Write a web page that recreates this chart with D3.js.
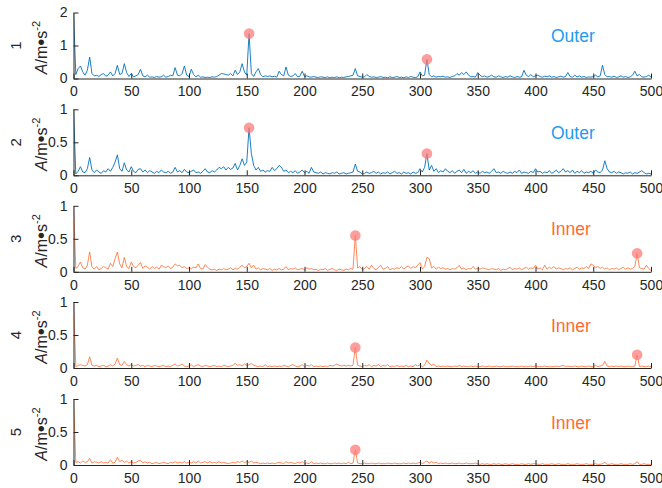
<!DOCTYPE html>
<html>
<head>
<meta charset="utf-8">
<script src="https://cdn.jsdelivr.net/npm/d3@7"></script>
<style>
  body { margin: 0; background: #fff; }
  svg text { font-family: "Liberation Sans", Arial, sans-serif; }
</style>
</head>
<body>
<div id="chart"></div>
<script>
// spectra, one value every 2 Hz from 0 to 500 Hz
const freqs = d3.range(0, 501, 2);

const amp1 = [
  2.0,0.12,0.3,0.38,0.2,0.1,0.25,0.65,0.15,0.08,0.1,0.06,0.12,0.15,0.07,0.1,0.2,0.08,0.15,0.4,0.12,0.15,0.45,0.18,0.06,
  0.15,0.05,0.08,0.12,0.28,0.08,0.05,0.1,0.04,0.05,0.03,0.06,0.04,0.05,0.1,0.04,0.06,0.1,0.08,0.33,0.1,0.08,0.15,0.38,0.1,
  0.06,0.28,0.12,0.05,0.1,0.04,0.05,0.03,0.04,0.03,0.05,0.04,0.06,0.1,0.15,0.14,0.12,0.1,0.15,0.08,0.25,0.12,0.2,0.45,0.2,
  0.1,1.36,0.15,0.06,0.2,0.3,0.12,0.05,0.08,0.06,0.08,0.05,0.07,0.04,0.22,0.12,0.08,0.35,0.1,0.06,0.08,0.15,0.05,0.07,0.22,
  0.06,0.08,0.05,0.04,0.06,0.04,0.03,0.05,0.04,0.03,0.05,0.02,0.04,0.03,0.05,0.02,0.04,0.03,0.05,0.06,0.08,0.1,0.3,0.08,0.06,
  0.04,0.05,0.12,0.06,0.04,0.05,0.03,0.04,0.06,0.03,0.04,0.02,0.05,0.03,0.04,0.06,0.03,0.04,0.02,0.05,0.03,0.06,0.04,0.03,0.05,
  0.2,0.08,0.1,0.58,0.12,0.05,0.08,0.04,0.06,0.05,0.07,0.04,0.05,0.03,0.06,0.08,0.15,0.1,0.18,0.12,0.2,0.1,0.05,0.06,0.04,
  0.18,0.1,0.05,0.08,0.04,0.06,0.1,0.05,0.04,0.08,0.05,0.03,0.06,0.04,0.08,0.05,0.03,0.06,0.04,0.05,0.25,0.1,0.06,0.12,0.05,
  0.08,0.1,0.06,0.04,0.07,0.05,0.08,0.04,0.06,0.03,0.05,0.07,0.04,0.06,0.18,0.06,0.04,0.1,0.05,0.08,0.04,0.06,0.03,0.05,0.04,
  0.06,0.1,0.05,0.08,0.4,0.12,0.05,0.06,0.04,0.07,0.03,0.05,0.08,0.04,0.06,0.03,0.05,0.1,0.22,0.08,0.12,0.05,0.04,0.06,0.1,
  0.04
];
const amp2 = [
  1.0,0.02,0.06,0.13,0.05,0.04,0.1,0.27,0.08,0.04,0.08,0.05,0.03,0.07,0.05,0.1,0.06,0.12,0.2,0.31,0.1,0.06,0.19,0.08,0.05,
  0.13,0.06,0.04,0.09,0.1,0.05,0.08,0.04,0.07,0.05,0.03,0.06,0.04,0.08,0.05,0.04,0.06,0.03,0.05,0.12,0.05,0.07,0.04,0.09,0.05,
  0.04,0.06,0.08,0.04,0.05,0.03,0.06,0.1,0.05,0.04,0.07,0.05,0.08,0.12,0.1,0.13,0.08,0.12,0.09,0.11,0.18,0.08,0.15,0.25,0.15,
  0.2,0.72,0.33,0.15,0.08,0.12,0.06,0.08,0.05,0.07,0.06,0.12,0.07,0.1,0.15,0.12,0.06,0.08,0.04,0.06,0.04,0.07,0.03,0.05,0.08,
  0.04,0.06,0.03,0.12,0.05,0.04,0.03,0.05,0.02,0.04,0.03,0.02,0.04,0.03,0.05,0.02,0.03,0.04,0.02,0.03,0.04,0.05,0.17,0.06,0.05,
  0.02,0.03,0.05,0.03,0.04,0.06,0.03,0.05,0.02,0.04,0.03,0.05,0.02,0.04,0.06,0.03,0.04,0.02,0.05,0.03,0.04,0.02,0.05,0.03,0.04,
  0.1,0.05,0.12,0.33,0.08,0.15,0.06,0.1,0.04,0.07,0.05,0.1,0.06,0.04,0.07,0.03,0.06,0.08,0.04,0.09,0.03,0.06,0.04,0.07,0.03,
  0.05,0.03,0.06,0.04,0.05,0.03,0.06,0.1,0.04,0.05,0.03,0.06,0.04,0.03,0.05,0.03,0.06,0.04,0.08,0.03,0.05,0.04,0.03,0.06,0.04,
  0.1,0.05,0.06,0.03,0.05,0.04,0.07,0.03,0.05,0.08,0.04,0.06,0.1,0.05,0.07,0.04,0.08,0.03,0.06,0.04,0.07,0.03,0.05,0.04,0.06,
  0.03,0.08,0.05,0.04,0.08,0.22,0.1,0.05,0.04,0.06,0.03,0.05,0.04,0.02,0.04,0.03,0.05,0.02,0.04,0.03,0.05,0.07,0.04,0.02,0.03,
  0.02
];
const amp3 = [
  1.0,0.05,0.08,0.15,0.06,0.04,0.1,0.3,0.07,0.04,0.08,0.03,0.05,0.08,0.06,0.04,0.13,0.08,0.2,0.3,0.12,0.06,0.22,0.08,0.05,
  0.15,0.08,0.06,0.1,0.14,0.05,0.09,0.07,0.04,0.08,0.05,0.07,0.04,0.1,0.08,0.06,0.09,0.05,0.07,0.12,0.09,0.1,0.06,0.08,0.05,
  0.06,0.05,0.07,0.06,0.12,0.05,0.04,0.11,0.07,0.04,0.03,0.04,0.02,0.04,0.03,0.05,0.03,0.04,0.06,0.03,0.05,0.04,0.07,0.1,0.06,
  0.08,0.13,0.06,0.1,0.04,0.06,0.03,0.05,0.04,0.03,0.05,0.02,0.04,0.03,0.05,0.03,0.04,0.08,0.03,0.05,0.04,0.06,0.03,0.04,0.05,
  0.03,0.06,0.04,0.05,0.03,0.04,0.02,0.04,0.03,0.05,0.02,0.04,0.05,0.03,0.02,0.04,0.03,0.02,0.04,0.03,0.05,0.04,0.55,0.06,0.08,
  0.03,0.05,0.08,0.04,0.1,0.05,0.03,0.07,0.1,0.04,0.05,0.08,0.03,0.05,0.04,0.06,0.05,0.08,0.04,0.07,0.09,0.05,0.08,0.06,0.1,
  0.14,0.04,0.08,0.22,0.2,0.06,0.08,0.04,0.07,0.05,0.06,0.04,0.05,0.03,0.05,0.04,0.06,0.1,0.04,0.06,0.03,0.05,0.04,0.08,0.04,
  0.05,0.04,0.06,0.05,0.04,0.03,0.05,0.04,0.03,0.05,0.02,0.04,0.03,0.05,0.07,0.03,0.05,0.04,0.06,0.03,0.05,0.07,0.04,0.06,0.05,
  0.1,0.04,0.06,0.03,0.1,0.04,0.07,0.05,0.08,0.04,0.06,0.05,0.03,0.05,0.04,0.06,0.03,0.05,0.07,0.04,0.06,0.05,0.08,0.05,0.12,
  0.1,0.06,0.08,0.05,0.07,0.04,0.06,0.03,0.05,0.04,0.06,0.03,0.05,0.07,0.04,0.06,0.04,0.05,0.08,0.28,0.06,0.05,0.04,0.1,0.05,
  0.02
];
const amp4 = [
  1.0,0.02,0.04,0.05,0.04,0.03,0.05,0.17,0.04,0.03,0.04,0.02,0.03,0.04,0.02,0.03,0.05,0.03,0.06,0.15,0.05,0.04,0.1,0.05,0.03,
  0.05,0.03,0.04,0.05,0.03,0.04,0.02,0.04,0.03,0.02,0.04,0.03,0.02,0.03,0.04,0.02,0.03,0.02,0.04,0.06,0.03,0.04,0.06,0.03,0.02,
  0.03,0.05,0.02,0.04,0.05,0.03,0.02,0.04,0.03,0.02,0.03,0.04,0.02,0.03,0.02,0.04,0.03,0.02,0.03,0.04,0.07,0.04,0.05,0.03,0.06,
  0.04,0.05,0.07,0.04,0.03,0.02,0.03,0.02,0.05,0.02,0.03,0.02,0.03,0.02,0.03,0.02,0.04,0.03,0.02,0.04,0.05,0.03,0.02,0.03,0.05,
  0.02,0.04,0.03,0.05,0.02,0.03,0.02,0.03,0.02,0.03,0.02,0.04,0.03,0.04,0.06,0.04,0.03,0.04,0.03,0.04,0.03,0.04,0.31,0.04,0.03,
  0.02,0.04,0.03,0.05,0.02,0.04,0.03,0.05,0.02,0.04,0.03,0.05,0.02,0.03,0.02,0.04,0.02,0.03,0.02,0.04,0.02,0.03,0.02,0.05,0.03,
  0.05,0.02,0.04,0.12,0.07,0.04,0.06,0.02,0.03,0.02,0.03,0.02,0.03,0.02,0.02,0.03,0.02,0.04,0.02,0.03,0.02,0.02,0.03,0.02,0.03,
  0.02,0.02,0.03,0.02,0.02,0.03,0.02,0.02,0.03,0.02,0.02,0.03,0.02,0.02,0.02,0.03,0.02,0.02,0.02,0.03,0.02,0.02,0.02,0.03,0.02,
  0.03,0.02,0.02,0.02,0.03,0.02,0.02,0.02,0.02,0.03,0.02,0.03,0.04,0.02,0.03,0.02,0.02,0.03,0.02,0.02,0.03,0.02,0.02,0.03,0.02,
  0.02,0.04,0.02,0.03,0.04,0.1,0.03,0.02,0.03,0.02,0.03,0.02,0.03,0.02,0.02,0.03,0.02,0.02,0.03,0.2,0.02,0.03,0.02,0.02,0.03,
  0.02
];
const amp5 = [
  1.0,0.04,0.05,0.03,0.06,0.04,0.05,0.1,0.03,0.05,0.04,0.03,0.05,0.03,0.04,0.03,0.08,0.03,0.04,0.12,0.05,0.07,0.04,0.06,0.03,
  0.05,0.03,0.04,0.06,0.07,0.03,0.05,0.03,0.04,0.02,0.03,0.04,0.02,0.03,0.04,0.03,0.02,0.04,0.03,0.05,0.03,0.04,0.03,0.05,0.03,
  0.04,0.03,0.05,0.03,0.06,0.03,0.04,0.05,0.03,0.05,0.03,0.04,0.03,0.05,0.03,0.04,0.03,0.02,0.03,0.04,0.03,0.05,0.04,0.06,0.04,
  0.05,0.04,0.06,0.03,0.04,0.03,0.02,0.03,0.02,0.03,0.02,0.03,0.02,0.03,0.04,0.03,0.02,0.05,0.03,0.04,0.03,0.02,0.04,0.03,0.05,
  0.02,0.03,0.02,0.05,0.02,0.03,0.02,0.03,0.02,0.02,0.03,0.02,0.02,0.03,0.02,0.03,0.02,0.03,0.02,0.04,0.02,0.03,0.23,0.03,0.02,
  0.02,0.03,0.02,0.02,0.03,0.02,0.02,0.03,0.02,0.02,0.02,0.03,0.02,0.02,0.03,0.02,0.02,0.02,0.03,0.02,0.03,0.02,0.03,0.02,0.03,
  0.04,0.02,0.04,0.06,0.03,0.05,0.03,0.04,0.02,0.03,0.02,0.03,0.02,0.02,0.03,0.02,0.02,0.03,0.02,0.02,0.03,0.02,0.02,0.02,0.03,
  0.02,0.01,0.02,0.01,0.02,0.01,0.01,0.02,0.01,0.02,0.01,0.01,0.02,0.01,0.01,0.02,0.01,0.01,0.01,0.02,0.01,0.01,0.02,0.01,0.02,
  0.02,0.01,0.01,0.02,0.01,0.01,0.01,0.02,0.01,0.01,0.02,0.01,0.01,0.01,0.02,0.01,0.01,0.01,0.02,0.01,0.01,0.01,0.02,0.01,0.01,
  0.01,0.02,0.01,0.01,0.02,0.04,0.01,0.01,0.02,0.01,0.01,0.01,0.02,0.01,0.01,0.01,0.02,0.01,0.02,0.05,0.01,0.01,0.02,0.01,0.01,
  0.01
];

const panelNames = ["1", "2", "3", "4", "5"];
const faultLabels = ["Outer", "Outer", "Inner", "Inner", "Inner"];
const yMax = [2, 1, 1, 1, 1];
const yTicks = [[0, 1, 2], [0, 0.5, 1], [0, 0.5, 1], [0, 0.5, 1], [0, 0.5, 1]];
const xTicks = [0, 50, 100, 150, 200, 250, 300, 350, 400, 450, 500];
// fault characteristic frequencies that get a dot
const markFreqs = [[152, 306], [152, 306], [244, 488], [244, 488], [244]];

const series = [amp1, amp2, amp3, amp4, amp5];

const W = 662, H = 488;
const left = 73.5, right = 651;
const axisH = 66;
const baseY = [78.5, 175.3, 271.8, 368, 465];
const textCol = "#262626";

const svg = d3.select("#chart").append("svg")
  .attr("width", W).attr("height", H);

const x = d3.scaleLinear().domain([0, 500]).range([left, right]);

series.forEach((amps, i) => {
  const kind = faultLabels[i];
  const lineCol = kind === "Outer" ? "#0072BD" : "#FF7A45";
  const labelCol = kind === "Outer" ? "#1E9BF0" : "#FF6A33";
  const y = d3.scaleLinear().domain([0, yMax[i]]).range([baseY[i], baseY[i] - axisH]);

  const g = svg.append("g");

  g.append("clipPath").attr("id", "clip" + i)
    .append("rect")
    .attr("x", left).attr("y", baseY[i] - axisH)
    .attr("width", right - left).attr("height", axisH);

  const pts = freqs.map((f, k) => [f, amps[k]]);
  g.append("path")
    .datum(pts)
    .attr("clip-path", `url(#clip${i})`)
    .attr("fill", "none")
    .attr("stroke", lineCol)
    .attr("stroke-width", 0.9)
    .attr("d", d3.line().x(d => x(d[0])).y(d => y(d[1])));

  // markers
  g.selectAll("circle.mark")
    .data(markFreqs[i])
    .enter().append("circle")
    .attr("class", "mark")
    .attr("cx", f => x(f))
    .attr("cy", f => y(amps[freqs.indexOf(f)]))
    .attr("r", 5.3)
    .attr("fill", "#FF7B7B")
    .attr("fill-opacity", 0.75);

  // axes
  const xa = g.append("g")
    .attr("transform", `translate(0,${baseY[i]})`)
    .call(d3.axisBottom(x).tickValues(xTicks).tickSizeInner(-5).tickSizeOuter(0).tickPadding(8));
  const ya = g.append("g")
    .attr("transform", `translate(${left},0)`)
    .call(d3.axisLeft(y).tickValues(yTicks[i]).tickSizeInner(-5).tickSizeOuter(0).tickPadding(6)
      .tickFormat(d3.format("~g")));
  [xa, ya].forEach(a => {
    a.select(".domain").attr("stroke", textCol).attr("stroke-width", 1);
    a.selectAll(".tick line").attr("stroke", textCol);
    a.selectAll("text").attr("fill", textCol).style("font-size", "14px")
      .style("font-family", '"Liberation Sans", Arial, sans-serif');
  });

  // y label: panel number and unit, rotated
  const cy = baseY[i] - axisH / 2;
  g.append("text")
    .attr("transform", `translate(21,${cy}) rotate(-90)`)
    .attr("text-anchor", "middle")
    .attr("fill", textCol)
    .style("font-size", "15px")
    .text(panelNames[i]);
  const unit = g.append("text")
    .attr("transform", `translate(47,${cy + 2}) rotate(-90)`)
    .attr("text-anchor", "middle")
    .attr("fill", textCol)
    .style("font-size", "16px");
  unit.append("tspan").attr("font-style", "italic").text("A");
  unit.append("tspan").text("/m");
  unit.append("tspan").style("font-size", "20px").attr("dy", 1).text("\u2022");
  unit.append("tspan").attr("dy", -1).text("s");
  unit.append("tspan").attr("dy", -7).style("font-size", "11px").text("-2");

  g.append("text")
    .attr("x", 551)
    .attr("y", baseY[i] - 41)
    .attr("dominant-baseline", "middle")
    .attr("fill", labelCol)
    .style("font-size", "17.5px")
    .text(kind);
});
</script>
</body>
</html>
